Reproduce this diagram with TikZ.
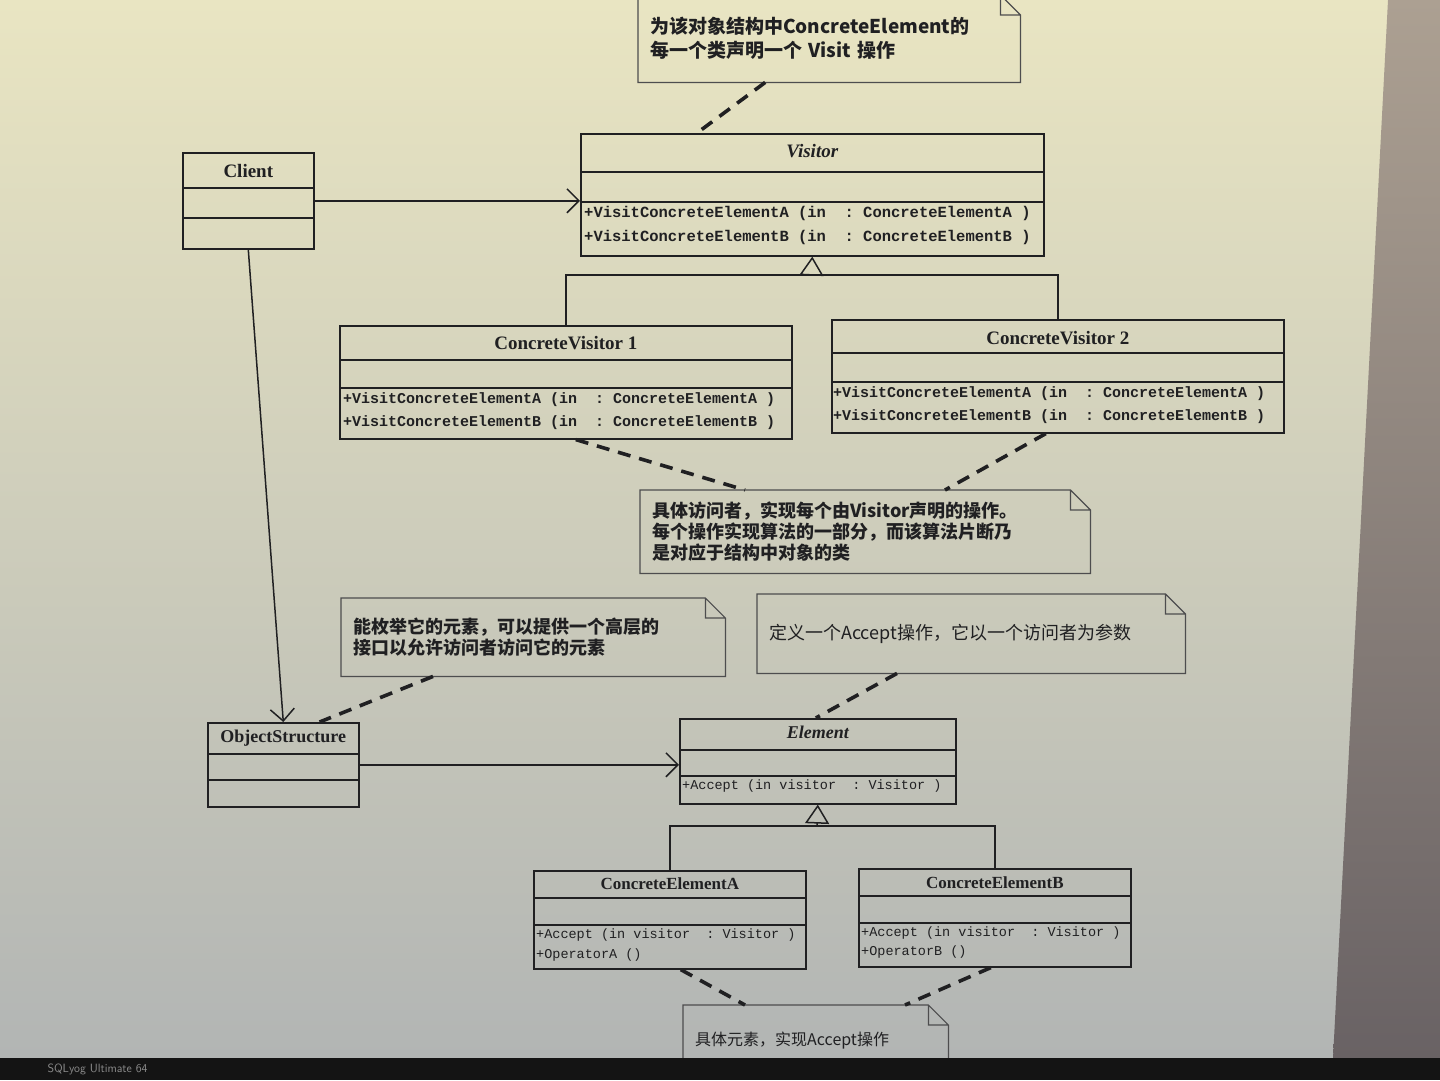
\documentclass[tikz,border=0pt]{standalone}
\usepackage{fontspec}
\setmainfont{Liberation Serif}
\setmonofont{Liberation Mono}
\newfontfamily\cjk{Noto Sans CJK SC}
\usetikzlibrary{arrows.meta, positioning}
\definecolor{papertop}{RGB}{233,229,194}
\definecolor{papermid}{RGB}{222,221,200}
\definecolor{paperlow}{RGB}{178,181,180}
\definecolor{bezeltop}{RGB}{172,160,146}
\definecolor{bezelbot}{RGB}{105,98,100}
\definecolor{ink}{RGB}{32,32,34}
\tikzstyle{classbox}=[draw=ink, line width=1.6pt, inner sep=0pt, anchor=north west]
\tikzstyle{compart}=[draw=ink, line width=1.6pt]
\tikzstyle{classname}=[text=ink, inner sep=0pt, font=\fontsize{19}{19}\selectfont\bfseries]
\tikzstyle{ops}=[text=ink, anchor=north west, align=left, inner sep=2pt, font=\ttfamily\bfseries\fontsize{15.5}{24}\selectfont]
\tikzstyle{elemops}=[ops, font=\ttfamily\fontsize{13.5}{20}\selectfont]
\tikzstyle{memo}=[anchor=north west, inner xsep=12pt, inner ysep=0pt, align=left, text=ink, font=\cjk\fontsize{18}{21}\selectfont]
\tikzstyle{memoline}=[draw=ink!80, line width=1.2pt, line join=miter]
\tikzstyle{anchorline}=[ink, line width=3.6pt, dash pattern=on 13pt off 9pt]
\tikzstyle{assoc}=[ink, line width=1.5pt, -{Straight Barb[length=12pt, width=24pt, line width=1.5pt]}]
\tikzstyle{inherit}=[ink, line width=1.5pt, -{Triangle[open, length=19pt, width=24pt, line width=1.5pt]}]
% two compartment lines under the name
\newcommand\compartments[3]{%
  \draw[compart] ([yshift=-#2pt]#1.north west) -- ([yshift=-#2pt]#1.north east);
  \draw[compart] ([yshift=-#3pt]#1.north west) -- ([yshift=-#3pt]#1.north east);}
% note outline with folded corner
\newcommand\dogear[1]{%
  \draw[memoline] (#1.north west) -- ([xshift=-20pt]#1.north east) -- ([yshift=-20pt]#1.north east)
    -- (#1.south east) -- (#1.south west) -- cycle
    ([xshift=-20pt]#1.north east) |- ([yshift=-20pt]#1.north east);}

\begin{document}
\begin{tikzpicture}[x=1pt, y=-1pt]
  \useasboundingbox (0,0) rectangle (1440,1080);
  \clip (0,0) rectangle (1440,1080);
  % screen background
  \shade[top color=papertop, middle color=papermid, bottom color=paperlow] (0,0) rectangle (1440,1058);
  \shade[top color=bezeltop, bottom color=bezelbot] (1388,0) -- (1440,0) -- (1440,1058) -- (1333,1058) -- cycle;

  % classes
  \node[classbox, minimum width=131pt, minimum height=96pt] (client) at (182,152) {};
  \compartments{client}{36}{66}
  \node[classname] (client-t) at ([yshift=-19pt]client.north) {Client};

  \node[classbox, minimum width=463pt, minimum height=122pt] (visitor) at (580,133) {};
  \compartments{visitor}{39}{69}
  \node[classname, font=\fontsize{19}{19}\selectfont\bfseries\itshape] (visitor-t) at ([yshift=-18pt]visitor.north) {Visitor};
  \node[ops] (visitor-o) at ([xshift=2pt, yshift=-71pt]visitor.north west)
    {+VisitConcreteElementA (in~~:~ConcreteElementA~)\\+VisitConcreteElementB (in~~:~ConcreteElementB~)};

  \node[classbox, minimum width=452pt, minimum height=113pt] (cv1) at (339,325) {};
  \compartments{cv1}{35}{63}
  \node[classname] (cv1-t) at ([yshift=-18pt]cv1.north) {ConcreteVisitor 1};
  \node[ops, font=\ttfamily\bfseries\fontsize{15}{23}\selectfont] (cv1-o) at ([xshift=2pt, yshift=-65pt]cv1.north west)
    {+VisitConcreteElementA (in~~:~ConcreteElementA~)\\+VisitConcreteElementB (in~~:~ConcreteElementB~)};

  \node[classbox, minimum width=452pt, minimum height=113pt] (cv2) at (831,319) {};
  \compartments{cv2}{34}{63}
  \node[classname] (cv2-t) at ([yshift=-19pt]cv2.north) {ConcreteVisitor 2};
  \node[ops, font=\ttfamily\bfseries\fontsize{15}{23}\selectfont] (cv2-o) at ([xshift=0pt, yshift=-65pt]cv2.north west)
    {+VisitConcreteElementA (in~~:~ConcreteElementA~)\\+VisitConcreteElementB (in~~:~ConcreteElementB~)};

  \node[classbox, minimum width=151pt, minimum height=84pt] (objstruct) at (207,722) {};
  \compartments{objstruct}{32}{58}
  \node[classname, font=\fontsize{18}{18}\selectfont\bfseries] (objstruct-t) at ([yshift=-16pt]objstruct.north) {ObjectStructure};

  \node[classbox, minimum width=276pt, minimum height=85pt] (element) at (679,718) {};
  \compartments{element}{32}{58}
  \node[classname, font=\fontsize{18}{18}\selectfont\bfseries\itshape] (element-t) at ([yshift=-14pt]element.north) {Element};
  \node[elemops] (element-o) at ([xshift=1pt, yshift=-60pt]element.north west)
    {+Accept (in visitor~~:~Visitor~)};

  \node[classbox, minimum width=272pt, minimum height=98pt] (cea) at (533,870) {};
  \compartments{cea}{28}{55}
  \node[classname, font=\fontsize{17}{17}\selectfont\bfseries] (cea-t) at ([yshift=-14pt]cea.north) {ConcreteElementA};
  \node[elemops] (cea-o) at ([xshift=1pt, yshift=-56pt]cea.north west)
    {+Accept (in visitor~~:~Visitor~)\\+OperatorA ()};

  \node[classbox, minimum width=272pt, minimum height=98pt] (ceb) at (858,868) {};
  \compartments{ceb}{28}{55}
  \node[classname, font=\fontsize{17}{17}\selectfont\bfseries] (ceb-t) at ([yshift=-15pt]ceb.north) {ConcreteElementB};
  \node[elemops] (ceb-o) at ([xshift=1pt, yshift=-56pt]ceb.north west)
    {+Accept (in visitor~~:~Visitor~)\\+OperatorB ()};

  % notes
  \node[memo, text width=358pt, minimum height=87pt, font=\cjk\fontsize{19}{24}\selectfont\bfseries] (note1) at (638,-5)
    {为该对象结构中ConcreteElement的\\每一个类声明一个 Visit 操作};
  \dogear{note1}
  \node[memo, text width=426pt, minimum height=83pt, font=\cjk\fontsize{18}{21}\selectfont\bfseries] (note2) at (640,490)
    {具体访问者，实现每个由Visitor声明的操作。\\每个操作实现算法的一部分，而该算法片断乃\\是对应于结构中对象的类};
  \dogear{note2}
  \node[memo, text width=360pt, minimum height=78pt, font=\cjk\fontsize{18}{21}\selectfont\bfseries] (note3) at (341,598)
    {能枚举它的元素，可以提供一个高层的\\接口以允许访问者访问它的元素};
  \dogear{note3}
  \node[memo, text width=404pt, minimum height=79pt] (note4) at (757,594)
    {定义一个Accept操作，它以一个访问者为参数};
  \dogear{note4}
  \node[memo, text width=241pt, minimum height=70pt, font=\cjk\fontsize{16}{20}\selectfont] (note5) at (683,1005)
    {具体元素，实现Accept操作};
  \dogear{note5}

  % associations
  \draw[assoc] (client.east) -- (client.east -| visitor.west);
  \draw[assoc] (client.south) -- (objstruct.north);
  \draw[assoc] (objstruct.east) -- (objstruct.east -| element.west);

  % generalizations
  \coordinate (vbar) at (811.5,275);
  \draw[ink, line width=1.5pt] (cv1.north) |- (vbar) -| (cv2.north);
  \draw[inherit] (vbar) -- (visitor.south);
  \coordinate (ebar) at (817,826);
  \draw[ink, line width=1.5pt] (cea.north) |- (ebar) -| (ceb.north);
  \draw[inherit] (ebar) -- (element.south);

  % note anchors
  \draw[anchorline] ([xshift=-64pt]note1.south) -- ([xshift=117pt]visitor.north west);
  \draw[anchorline] ([xshift=10pt]cv1.south) -- ([xshift=105pt]note2.north west);
  \draw[anchorline] ([xshift=-12pt]cv2.south) -- ([xshift=305pt]note2.north west);
  \draw[anchorline] ([xshift=92pt]note3.south west) -- ([xshift=-40pt]objstruct.north east);
  \draw[anchorline] ([xshift=140pt]note4.south west) -- ([xshift=-2pt]element.north);
  \draw[anchorline] ([xshift=11pt]cea.south) -- ([xshift=62pt]note5.north west);
  \draw[anchorline] ([xshift=-4pt]ceb.south) -- ([xshift=222pt]note5.north west);

  % taskbar
  \fill[black!92] (0,1058) rectangle (1440,1080);
  \node[anchor=west, text=black!45, font=\sffamily\fontsize{12}{12}\selectfont] (taskbar) at (44,1069) {SQLyog Ultimate 64};
\end{tikzpicture}
\end{document}
